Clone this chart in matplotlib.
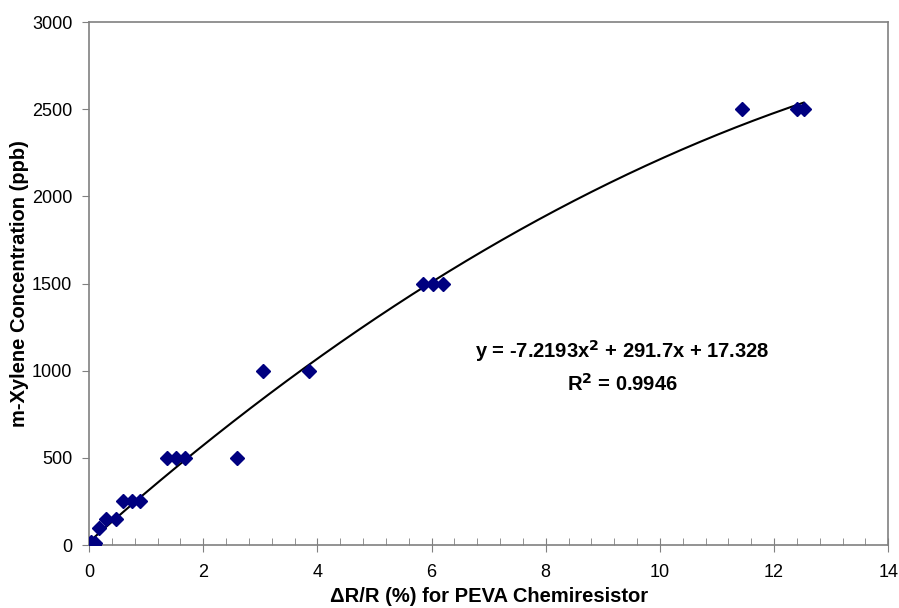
import numpy as np
import matplotlib
matplotlib.use("Agg")
import matplotlib.pyplot as plt
from matplotlib.ticker import MultipleLocator

# PEVA chemiresistor response vs m-xylene concentration
resp = [0.0, 0.03, 0.08, 0.11, 0.18, 0.3, 0.47,
        0.6, 0.75, 0.9,
        1.37, 1.52, 1.68, 2.59,
        3.05, 3.85,
        5.85, 6.03, 6.2,
        11.44, 12.4, 12.52]
conc = [0, 20, 0, 10, 100, 150, 150,
        250, 250, 250,
        500, 500, 500, 500,
        1000, 1000,
        1500, 1500, 1500,
        2500, 2500, 2500]

# quadratic trendline coefficients
a2, a1, a0 = -7.2193, 291.7, 17.328
r2 = 0.9946

plt.rcParams['font.family'] = ['Liberation Sans', 'DejaVu Sans']

fig = plt.figure(figsize=(8.99, 6.08), dpi=100)
ax = fig.add_axes([0.099, 0.1036, 0.889, 0.8602])

xs = np.linspace(min(resp), max(resp), 200)
ax.plot(xs, a2 * xs**2 + a1 * xs + a0, color='black', lw=1.5, zorder=2)
ax.plot(resp, conc, linestyle='none', marker='D', markersize=7,
        color='#000080', zorder=3)

ax.set_xlim(0, 14)
ax.set_ylim(0, 3000)
ax.xaxis.set_major_locator(MultipleLocator(2))
ax.xaxis.set_minor_locator(MultipleLocator(0.4))
ax.yaxis.set_major_locator(MultipleLocator(500))

for s in ax.spines.values():
    s.set_color('#808080')
    s.set_linewidth(1.2)

ax.tick_params(axis='x', which='major', direction='inout', length=10,
               color='#808080', labelsize=13, pad=9)
ax.tick_params(axis='x', which='minor', direction='in', length=5,
               color='#808080')
ax.tick_params(axis='y', which='major', direction='out', length=5,
               color='#808080', labelsize=13, pad=7)

ax.set_xlabel('ΔR/R (%) for PEVA Chemiresistor', fontsize=14.5,
              fontweight='bold', labelpad=4)
ax.set_ylabel('m-Xylene Concentration (ppb)', fontsize=14.5,
              fontweight='bold', labelpad=2)

eq = 'y = %.4fx$^{\\mathbf{2}}$ + %.1fx + %.3f' % (a2, a1, a0)
ax.text(9.35, 1110, eq, ha='center', va='center', fontsize=14.5,
        fontweight='bold')
ax.text(9.35, 925, 'R$^{\\mathbf{2}}$ = %.4f' % r2, ha='center',
        va='center', fontsize=14.5, fontweight='bold')

fig.savefig('out.png', dpi=100)
